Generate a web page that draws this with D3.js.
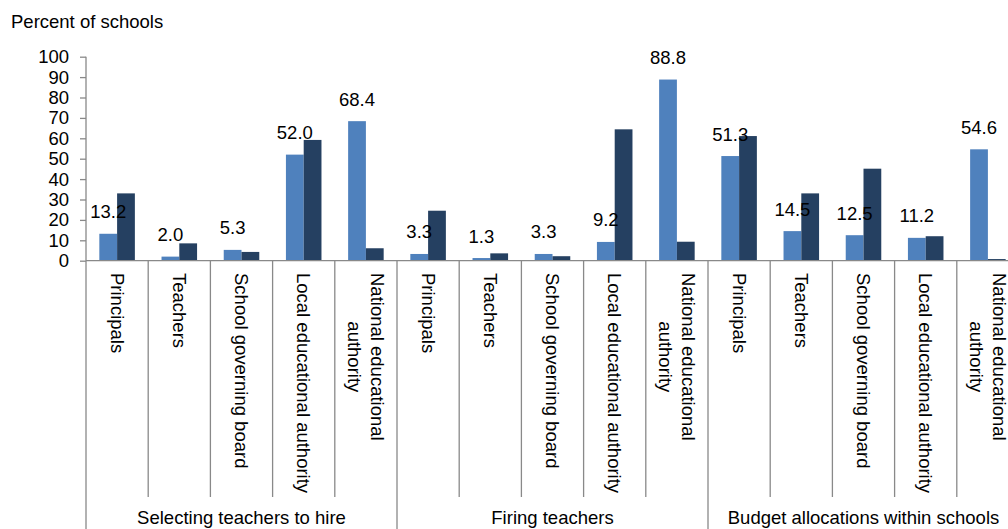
<!DOCTYPE html>
<html>
<head>
<meta charset="utf-8">
<script src="https://cdn.jsdelivr.net/npm/d3@7"></script>
<style>
  html, body { margin: 0; padding: 0; background: #fff; overflow: hidden; }
  svg { display: block; font-family: "Liberation Sans", Arial, sans-serif; }
</style>
</head>
<body>
<svg id="chart" width="1008" height="529"></svg>
<script>
const groups = ["Selecting teachers to hire", "Firing teachers", "Budget allocations within schools"];
const categories = ["Principals", "Teachers", "School governing board", "Local educational authority", "National educational authority"];
const seriesNames = ["Series A", "Series B"];
const lightValues = [13.2, 2.0, 5.3, 52.0, 68.4, 3.3, 1.3, 3.3, 9.2, 88.8, 51.3, 14.5, 12.5, 11.2, 54.6];
const darkValues = [33.0, 8.5, 4.3, 59.2, 6.1, 24.5, 3.6, 2.2, 64.4, 9.3, 61.1, 33.0, 45.1, 12.0, 0.8];
const yTicks = [0, 10, 20, 30, 40, 50, 60, 70, 80, 90, 100];
const yTitle = "Percent of schools";

const FONT = 18.5;
const AXIS = "#898989";
const COLORS = ["#4F81BD", "#254061"];

const svg = d3.select("#chart");

// flat list of rows
const rows = [];
groups.forEach((g, gi) => categories.forEach((c, ci) => {
  const i = gi * categories.length + ci;
  rows.push({ key: gi + "-" + ci, group: g, gi, ci, cat: c, values: [lightValues[i], darkValues[i]] });
}));

const x = d3.scaleBand().domain(rows.map(r => r.key)).range([86, 1019]).padding(0);
const xs = d3.scaleBand().domain(seriesNames).range([0, x.bandwidth()]).paddingInner(0).paddingOuter(0.75);
const y = d3.scaleLinear().domain([0, 100]).range([260.7, 56.7]);

// y title
svg.append("text").attr("x", 11).attr("y", 28).attr("font-size", FONT).attr("fill", "#000").text(yTitle);

// bars
const cat = svg.append("g").selectAll("g").data(rows).join("g")
  .attr("transform", d => `translate(${x(d.key)},0)`);
cat.selectAll("rect").data(d => d.values.map((v, si) => ({ v, si })))
  .join("rect")
  .attr("x", d => xs(seriesNames[d.si]))
  .attr("width", xs.bandwidth())
  .attr("y", d => y(d.v))
  .attr("height", d => y(0) - y(d.v))
  .attr("fill", d => COLORS[d.si]);

// value labels (light series)
cat.append("text")
  .attr("x", xs(seriesNames[0]) + xs.bandwidth() / 2)
  .attr("y", d => y(d.values[0]) - 15.5)
  .attr("text-anchor", "middle")
  .attr("font-size", FONT)
  .attr("fill", "#000")
  .text(d => d.values[0].toFixed(1));

// y axis
const yAxis = svg.append("g").attr("transform", "translate(86,0)")
  .call(d3.axisLeft(y).tickValues(yTicks).tickSize(6).tickPadding(11).tickSizeOuter(0));
yAxis.select(".domain").remove();
yAxis.selectAll(".tick line").attr("stroke", AXIS).attr("stroke-width", 1.3);
yAxis.selectAll(".tick text").attr("font-size", FONT).attr("fill", "#000")
  .attr("font-family", "Liberation Sans, Arial, sans-serif");
svg.append("line").attr("x1", 86).attr("x2", 86).attr("y1", y(100)).attr("y2", 529)
  .attr("stroke", AXIS).attr("stroke-width", 1.3);

// x axis baseline
svg.append("line").attr("x1", 86).attr("x2", 1019).attr("y1", y(0)).attr("y2", y(0))
  .attr("stroke", AXIS).attr("stroke-width", 1.3);

// category separators
rows.forEach((r, i) => {
  if (i === 0) return;
  const xx = x(r.key);
  const isGroup = r.ci === 0;
  svg.append("line").attr("x1", xx).attr("x2", xx).attr("y1", y(0)).attr("y2", isGroup ? 529 : 497)
    .attr("stroke", AXIS).attr("stroke-width", 1.3);
});
svg.append("line").attr("x1", 1019).attr("x2", 1019).attr("y1", y(0)).attr("y2", 529)
  .attr("stroke", AXIS).attr("stroke-width", 1.3);

// category labels (rotated, wrapped)
const maxLen = 224;
const labelTop = 273;
const lineGap = 23;
rows.forEach(r => {
  const cx = x(r.key) + x.bandwidth() / 2;
  const g = svg.append("g").attr("transform", `translate(${cx},${labelTop}) rotate(90)`);
  // wrap words
  const words = r.cat.split(" ");
  const meas = g.append("text").attr("font-size", FONT);
  const lines = [];
  let cur = "";
  words.forEach(w => {
    const t = cur ? cur + " " + w : w;
    meas.text(t);
    if (meas.node().getComputedTextLength() > maxLen && cur) { lines.push(cur); cur = w; }
    else cur = t;
  });
  lines.push(cur);
  const widths = lines.map(l => { meas.text(l); return meas.node().getComputedTextLength(); });
  meas.remove();
  const blockW = d3.max(widths);
  const n = lines.length;
  lines.forEach((l, li) => {
    // rotated: positive local y goes to the left on screen; first line on the right
    const off = (li - (n - 1) / 2) * lineGap;
    g.append("text")
      .attr("x", blockW / 2)
      .attr("y", off)
      .attr("dy", "0.35em")
      .attr("text-anchor", "middle")
      .attr("font-size", FONT)
      .attr("fill", "#000")
      .text(l);
  });
});

// group labels
groups.forEach((gname, gi) => {
  const first = x(gi + "-0");
  const last = x(gi + "-" + (categories.length - 1)) + x.bandwidth();
  svg.append("text").attr("x", (first + last) / 2).attr("y", 524)
    .attr("text-anchor", "middle").attr("font-size", FONT).attr("fill", "#000").text(gname);
});
</script>
</body>
</html>
